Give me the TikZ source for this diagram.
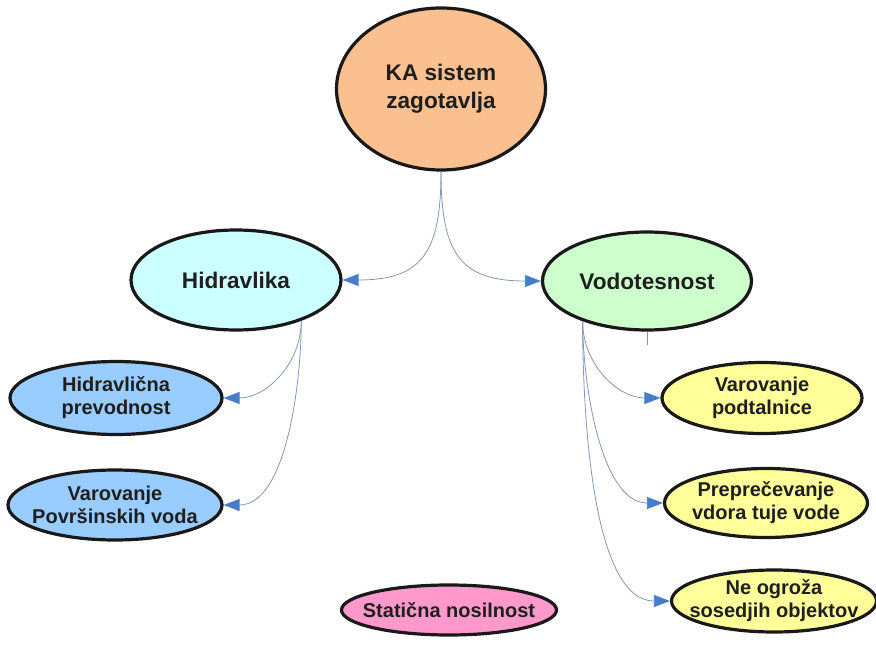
\documentclass[tikz,border=0pt]{standalone}
\usepackage{fontspec}
\setmainfont{Liberation Sans}
\usetikzlibrary{shapes.geometric,arrows.meta}
\definecolor{peach}{RGB}{250,192,144}
\definecolor{paleCyan}{RGB}{204,255,255}
\definecolor{paleGreen}{RGB}{204,255,204}
\definecolor{skyBlue}{RGB}{153,204,255}
\definecolor{paleYellow}{RGB}{255,255,153}
\definecolor{rosePink}{RGB}{255,153,204}
\definecolor{linkGray}{RGB}{130,150,185}
\definecolor{tipBlue}{RGB}{70,125,200}
\begin{document}
\begin{tikzpicture}[x=1pt,y=-1pt,
    bubble/.style={ellipse,draw=black!90,line width=3.2pt,inner sep=0pt},
    topic/.style={bubble,label={[align=center,text=black!88,font=\bfseries\fontsize{22.6}{28}\selectfont]center:#1}},
    leaf/.style={bubble,label={[align=center,text=black!88,font=\bfseries\fontsize{20}{23}\selectfont]center:#1}},
    link/.style={draw=linkGray,line width=0.8pt,-{Triangle[length=16pt,width=12pt,fill=tipBlue,color=tipBlue]}}]
    \useasboundingbox (0,0) rectangle (876,652);
    \node (KaSystem) [topic={KA sistem\\zagotavlja}, fill=peach, minimum width=209pt, minimum height=162pt] at (441, 89) {};
    \node (Hydraulics) [topic=Hidravlika, fill=paleCyan, minimum width=210pt, minimum height=100pt] at (236, 280) {};
    \node (Watertight) [topic=Vodotesnost, fill=paleGreen, minimum width=209pt, minimum height=98pt] at (647, 281) {};
    \node (Conductivity) [leaf={Hidravlična\\prevodnost}, fill=skyBlue, minimum width=212pt, minimum height=73pt] at (116, 398) {};
    \node (SurfaceWater) [leaf={Varovanje\\Površinskih voda}, fill=skyBlue, minimum width=214pt, minimum height=70pt] at (115, 505) {};
    \node (GroundWater) [leaf={Varovanje\\podtalnice}, fill=paleYellow, minimum width=200pt, minimum height=71pt] at (762, 398) {};
    \node (ForeignWater) [leaf={Preprečevanje\\vdora tuje vode}, fill=paleYellow, minimum width=203pt, minimum height=69pt] at (766, 503) {};
    \node (Neighbours) [leaf={Ne ogroža\\sosedjih objektov}, fill=paleYellow, minimum width=205pt, minimum height=62pt] at (774, 601) {};
    \node (Bearing) [leaf={Statična nosilnost}, fill=rosePink, minimum width=215pt, minimum height=50pt] at (449, 610) {};
    % connectors
    \draw[link] (KaSystem.south) to[out=-90,in=0,looseness=1.4] (Hydraulics.east);
    \draw[link] (KaSystem.south) to[out=-90,in=180,looseness=1.4] (Watertight.west);
    \draw[link] (Hydraulics.-32) to[out=-90,in=0] (Conductivity.east);
    \draw[link] (Hydraulics.-32) to[out=-90,in=0,looseness=0.8] (SurfaceWater.east);
    \draw[link] (Watertight.212) to[out=-90,in=180] (GroundWater.west);
    \draw[link] (Watertight.212) to[out=-90,in=180,looseness=0.8] (ForeignWater.west);
    \draw[link] (Watertight.212) to[out=-90,in=180,looseness=0.7] (Neighbours.west);
    \draw[draw=linkGray,line width=0.8pt] (Watertight.south) -- ++(0,13);
\end{tikzpicture}
\end{document}
